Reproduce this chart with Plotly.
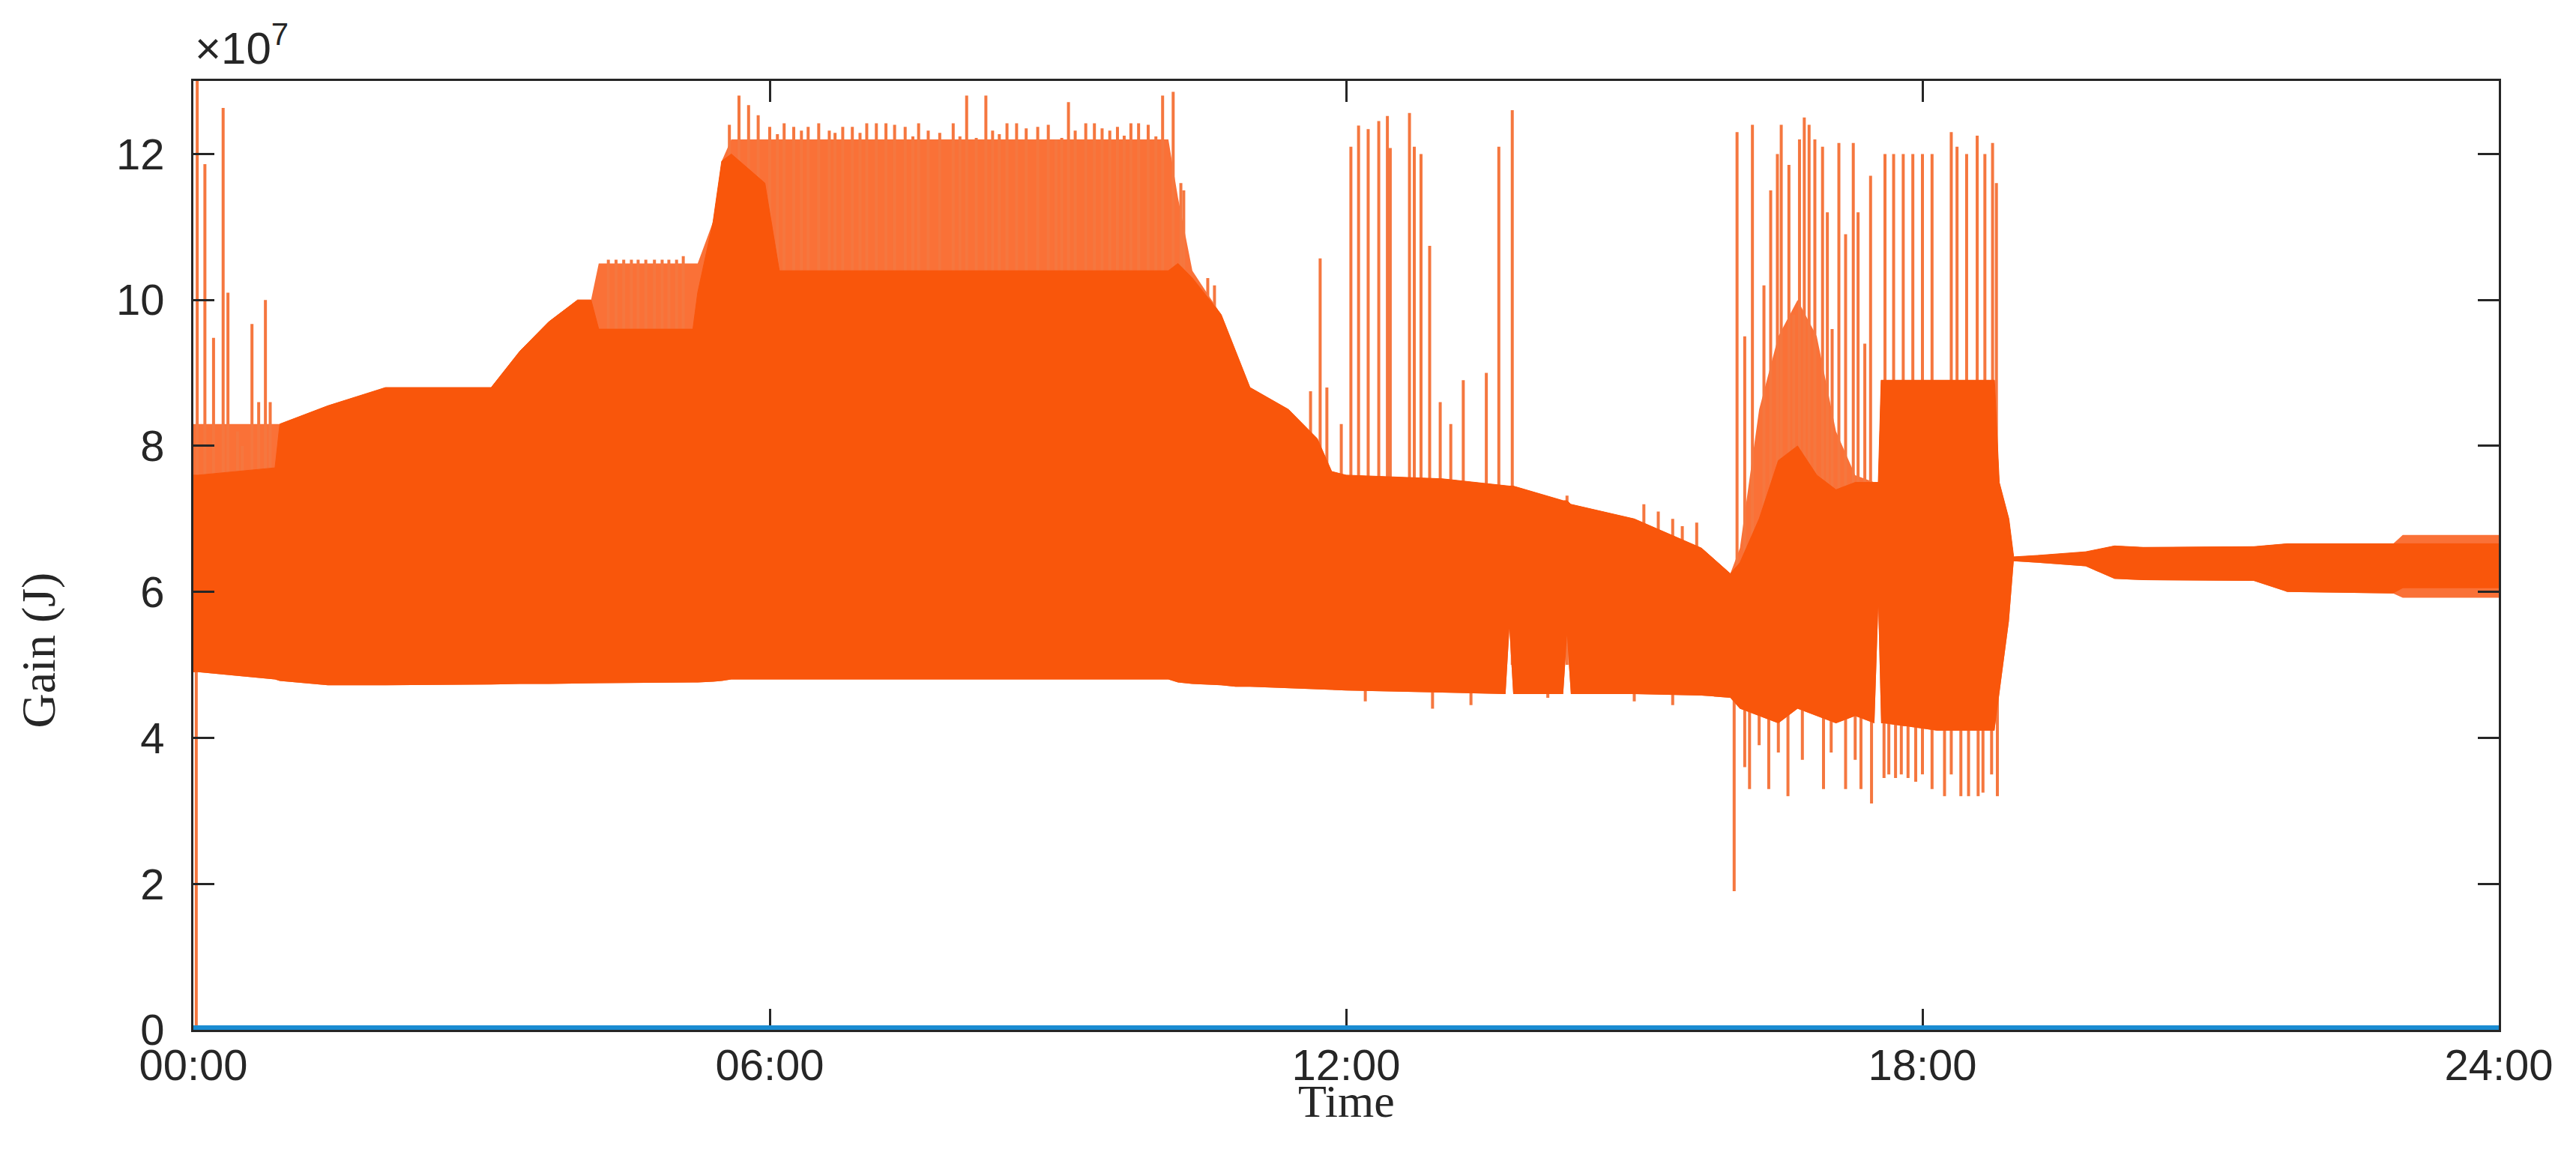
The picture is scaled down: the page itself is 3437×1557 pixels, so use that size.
import plotly.graph_objects as go

# time of day in hours, gain in units of 1e7 J
t_hours = [0.00, 0.05, 0.85, 0.90, 1.40, 2.00, 3.10, 3.40, 3.70, 4.00, 4.14, 4.22,
           5.20, 5.25, 5.41, 5.50, 5.60, 5.95, 6.10, 10.15, 10.25, 10.40, 10.70, 10.85,
           11.00, 11.40, 11.70, 11.85, 12.00, 13.00, 13.66, 13.70, 13.74, 14.26, 14.30,
           14.34, 15.00, 15.70, 16.00, 16.10, 16.30, 16.50, 16.70, 16.90, 17.10, 17.30,
           17.50, 17.54, 17.57, 17.60, 18.15, 18.20, 18.75, 18.80, 18.90, 18.95, 19.20,
           19.70, 20.00, 20.30, 21.45, 21.80, 22.90, 23.00, 24.00]

# dense oscillation band: lower / upper edge of the solid part
band_low = [4.90, 4.90, 4.80, 4.78, 4.72, 4.72, 4.73, 4.74, 4.74, 4.75, 4.75, 4.75,
            4.76, 4.76, 4.77, 4.78, 4.80, 4.80, 4.80, 4.80, 4.76, 4.74, 4.72, 4.70,
            4.70, 4.68, 4.66, 4.65, 4.65, 4.62, 4.60, 5.50, 4.60, 4.60, 5.40,
            4.60, 4.60, 4.58, 4.55, 4.40, 4.30, 4.20, 4.40, 4.30, 4.20, 4.30,
            4.20, 5.80, 4.20, 4.20, 4.10, 4.10, 4.10, 4.60, 5.60, 6.42, 6.40,
            6.35, 6.18, 6.16, 6.15, 6.00, 5.98, 6.05, 6.05]
band_high = [7.60, 7.60, 7.70, 8.30, 8.55, 8.80, 8.80, 9.30, 9.70, 10.00, 10.00, 9.60,
             9.60, 10.10, 11.07, 11.90, 12.00, 11.60, 10.40, 10.40, 10.50, 10.30, 9.80, 9.30,
             8.80, 8.50, 8.10, 7.65, 7.60, 7.55, 7.45, 7.45, 7.45, 7.25, 7.25,
             7.20, 7.00, 6.60, 6.25, 6.40, 7.00, 7.80, 8.00, 7.60, 7.40, 7.50,
             7.50, 7.50, 8.90, 8.90, 8.90, 8.90, 8.90, 7.50, 7.00, 6.48, 6.50,
             6.55, 6.63, 6.61, 6.62, 6.66, 6.66, 6.66, 6.66]

# lighter textured zone where the oscillation is very dense
texture_low = [4.90, 4.90, 4.80, 4.78, 4.72, 4.72, 4.73, 4.74, 4.74, 4.75, 4.75, 4.75,
               4.76, 4.76, 4.77, 4.78, 4.80, 4.80, 4.80, 4.80, 4.76, 4.74, 4.72, 4.70,
               4.70, 4.68, 4.66, 4.65, 4.65, 4.62, 4.60, 5.50, 4.60, 4.60, 5.40,
               4.60, 4.60, 4.58, 4.55, 4.40, 4.30, 4.20, 4.40, 4.30, 4.20, 4.30,
               4.20, 5.80, 4.20, 4.20, 4.10, 4.10, 4.10, 4.60, 5.60, 6.42, 6.40,
               6.35, 6.18, 6.16, 6.15, 6.00, 5.98, 5.92, 5.92]
texture_high = [8.30, 8.30, 8.30, 8.30, 8.55, 8.80, 8.80, 9.30, 9.70, 10.00, 10.00, 10.50,
                10.50, 10.50, 11.07, 11.90, 12.20, 12.20, 12.20, 12.20, 11.40, 10.40, 9.80, 9.30,
                8.80, 8.50, 8.10, 7.65, 7.60, 7.55, 7.45, 7.45, 7.45, 7.25, 7.25,
                7.20, 7.00, 6.60, 6.25, 6.60, 8.50, 9.50, 10.00, 9.50, 8.20, 7.60,
                7.50, 7.50, 8.90, 8.90, 8.90, 8.90, 8.90, 7.50, 7.00, 6.48, 6.50,
                6.55, 6.63, 6.61, 6.62, 6.66, 6.66, 6.78, 6.78]

# isolated upward peaks
peak_t = [0.04, 0.12, 0.21, 0.31, 0.36, 0.46, 0.51, 0.61, 0.68, 0.75, 0.80,
          4.32, 4.40, 4.48, 4.56, 4.63, 4.71, 4.80, 4.88, 4.95, 5.03, 5.10,
          5.58, 5.68, 5.78, 5.88, 6.00, 6.08, 6.15, 6.25, 6.33, 6.40, 6.51, 6.62,
          6.68, 6.76, 6.86, 6.94, 7.01, 7.11, 7.21, 7.30, 7.41, 7.49, 7.55, 7.65,
          7.77, 7.91, 7.98, 8.05, 8.15, 8.25, 8.32, 8.39, 8.47, 8.57, 8.67, 8.79,
          8.90, 8.98, 9.04, 9.11, 9.18, 9.29, 9.38, 9.46, 9.54, 9.62, 9.69, 9.76,
          9.84, 9.94, 10.02, 10.09, 10.20, 10.28, 10.31, 10.56, 10.63,
          11.63, 11.73, 11.80, 11.95, 12.05, 12.13, 12.23, 12.34, 12.43, 12.46,
          12.66, 12.71, 12.78, 12.87, 12.98, 13.09, 13.22, 13.46, 13.59, 13.73,
          14.30, 15.10, 15.25, 15.40, 15.50, 15.65,
          16.07, 16.15, 16.23, 16.35, 16.42, 16.49, 16.53, 16.61, 16.66, 16.72, 16.77,
          16.82, 16.88, 16.96, 17.01, 17.06, 17.13, 17.20, 17.28, 17.33, 17.40, 17.46,
          17.61, 17.70, 17.80, 17.90, 18.00, 18.10,
          18.30, 18.36, 18.46, 18.57, 18.65, 18.73, 18.77]
peak_v = [13.00, 11.86, 9.48, 12.63, 10.10, 8.20, 8.00, 9.67, 8.60, 10.00, 8.60,
          10.55, 10.55, 10.55, 10.55, 10.55, 10.55, 10.55, 10.55, 10.55, 10.55, 10.60,
          12.40, 12.80, 12.67, 12.53, 12.37, 12.27, 12.42, 12.37, 12.32, 12.37, 12.42, 12.32,
          12.29, 12.37, 12.37, 12.29, 12.42, 12.42, 12.42, 12.40, 12.37, 12.24, 12.42, 12.32,
          12.29, 12.42, 12.24, 12.80, 12.22, 12.80, 12.32, 12.27, 12.42, 12.42, 12.35, 12.37,
          12.40, 12.20, 12.22, 12.71, 12.32, 12.42, 12.42, 12.35, 12.32, 12.37, 12.25, 12.42,
          12.42, 12.40, 12.24, 12.80, 12.85, 11.60, 11.50, 10.30, 10.20,
          8.75, 10.57, 8.80, 8.30, 12.10, 12.39, 12.34, 12.45, 12.52, 12.08,
          12.56, 12.10, 12.00, 10.74, 8.60, 8.30, 8.90, 9.00, 12.10, 12.60,
          7.32, 7.20, 7.10, 7.00, 6.90, 6.95,
          12.30, 9.50, 12.40, 10.20, 11.50, 12.00, 12.40, 11.85, 9.80, 12.20, 12.50,
          12.40, 12.20, 12.10, 11.20, 9.60, 12.15, 10.90, 12.15, 11.20, 9.40, 11.70,
          12.00, 12.00, 12.00, 12.00, 12.00, 12.00,
          12.30, 12.10, 12.00, 12.25, 12.00, 12.15, 11.60]

# isolated downward dips
dip_t = [0.03, 12.20, 12.90, 13.30, 14.10, 15.00, 15.40,
         16.04, 16.15, 16.20, 16.30, 16.40, 16.50, 16.60, 16.75, 16.97, 17.05,
         17.20, 17.30, 17.36, 17.47, 17.60, 17.65, 17.72, 17.78, 17.85, 17.93,
         18.00, 18.10, 18.23, 18.30, 18.40, 18.48, 18.58, 18.63, 18.72, 18.78]
dip_v = [0.00, 4.50, 4.40, 4.45, 4.55, 4.50, 4.45,
         1.90, 3.60, 3.30, 3.90, 3.30, 3.80, 3.20, 3.70, 3.30, 3.80,
         3.30, 3.70, 3.30, 3.10, 3.45, 3.50, 3.45, 3.50, 3.45, 3.40,
         3.50, 3.30, 3.20, 3.50, 3.20, 3.20, 3.20, 3.25, 3.50, 3.20]

# second series, flat at zero all day
zero_t = [0.0, 24.0]
zero_v = [0.0, 0.0]

x_tickvals = [0, 6, 12, 18, 24]
x_ticktext = ["00:00", "06:00", "12:00", "18:00", "24:00"]
y_tickvals = [0, 2, 4, 6, 8, 10, 12]

ORANGE = "#F9560B"
TEXTURE = "#FA7137"
SPIKE = "#F5773F"
BLUE = "#1A8CD2"
INK = "#262626"


def segments(ts, vs, base):
    xs, ys = [], []
    for t, v in zip(ts, vs):
        xs += [t, t, None]
        ys += [base, v, None]
    return xs, ys


fig = go.Figure()

# textured zone
fig.add_trace(go.Scatter(x=t_hours, y=texture_low, mode="lines",
                         line=dict(width=0), hoverinfo="skip"))
fig.add_trace(go.Scatter(x=t_hours, y=texture_high, mode="lines", fill="tonexty",
                         fillcolor=TEXTURE, line=dict(width=0), hoverinfo="skip"))

# peaks and dips, drawn under the solid band
px_, py_ = segments(peak_t, peak_v, 5.0)
fig.add_trace(go.Scatter(x=px_, y=py_, mode="lines", line=dict(color=SPIKE, width=4)))
dx_, dy_ = segments(dip_t, dip_v, 6.0)
fig.add_trace(go.Scatter(x=dx_, y=dy_, mode="lines", line=dict(color=SPIKE, width=4)))

# solid band
fig.add_trace(go.Scatter(x=t_hours, y=band_low, mode="lines",
                         line=dict(width=0, color=ORANGE), hoverinfo="skip"))
fig.add_trace(go.Scatter(x=t_hours, y=band_high, mode="lines", fill="tonexty",
                         fillcolor=ORANGE, line=dict(width=1, color=ORANGE)))

# zero line
fig.add_trace(go.Scatter(x=zero_t, y=zero_v, mode="lines", line=dict(color=BLUE, width=12)))

axis_common = dict(
    showgrid=False, zeroline=False, showline=True, linecolor=INK, linewidth=3,
    mirror="ticks", ticks="inside", ticklen=28, tickwidth=3, tickcolor=INK,
    tickfont=dict(family="Liberation Sans, Arial", size=58, color=INK),
)

fig.update_xaxes(range=[0, 24], tickvals=x_tickvals, ticktext=x_ticktext,
                 ticklabelstandoff=-6, layer="below traces", **axis_common)
fig.update_yaxes(range=[0, 13], tickvals=y_tickvals, ticklabelstandoff=24, **axis_common)

fig.update_layout(
    width=3437, height=1557,
    margin=dict(l=250, r=111, t=100, b=191),
    paper_bgcolor="white", plot_bgcolor="white",
    showlegend=False,
    annotations=[
        dict(text="×10<sup>7</sup>", x=0, y=1.006, xref="paper", yref="paper",
             xanchor="left", yanchor="bottom", showarrow=False,
             font=dict(family="Liberation Sans, Arial", size=60, color=INK)),
        dict(text="Time", x=0.5, y=-0.075, xref="paper", yref="paper",
             xanchor="center", yanchor="middle", showarrow=False,
             font=dict(family="Liberation Serif, Times New Roman", size=62, color=INK)),
        dict(text="Gain (J)", x=-0.067, y=0.40, xref="paper", yref="paper",
             xanchor="center", yanchor="middle", showarrow=False, textangle=-90,
             font=dict(family="Liberation Serif, Times New Roman", size=64, color=INK)),
    ],
)

fig.write_html("out.html")
